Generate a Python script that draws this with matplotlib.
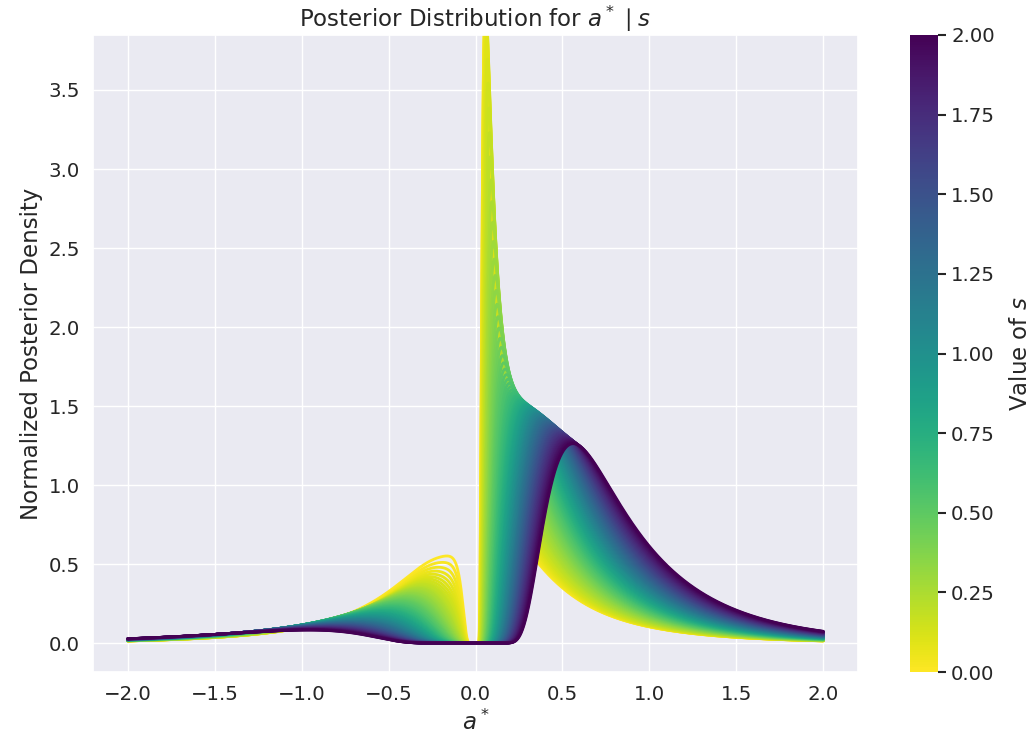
import matplotlib
matplotlib.use("Agg")
import matplotlib.pyplot as plt
import numpy as np
import seaborn as sns

# valores de s (um traço por valor)
s_min, s_max, n_curves = 0.0, 2.0, 100
s_vals = np.linspace(s_min, s_max, n_curves)

# parâmetros da priori (ajustados aos pontos)
prior_tau = np.exp(0.377)
prior_log_B = -1.565
prior_nu = np.exp(1.461)
prior_b = np.exp(0.628)
prior_c = 3.148
prior_wl = np.exp(1.914)
prior_wr = np.exp(2.477)

# parâmetros da verossimilhança s | a*
lik_mu = 2.093
lik_sx = np.exp(0.720)
lik_k = np.exp(-1.814)

# ticks
cbar_ticks = [0.0, 0.25, 0.5, 0.75, 1.0, 1.25, 1.5, 1.75, 2.0]


def posterior(a, s):
    th = 1.0 / a
    core = -(prior_nu + 1) / 2 * np.log1p(th ** 2 / (prior_nu * prior_b ** 2))
    w = np.where(th < prior_c, prior_wl, prior_wr)
    broad = prior_log_B - (th - prior_c) ** 2 / (2 * w ** 2)
    base = np.logaddexp(core, broad) - 2 * np.log(np.abs(a)) - a ** 2 / (2 * prior_tau ** 2)
    s = np.asarray(s)[:, None]
    t = th[None, :]
    lik = -((s ** 2 + lik_k * s) * t ** 2 - 2 * s * lik_mu * t) / (2 * lik_sx ** 2)
    logf = base[None, :] + lik
    logf -= logf.max(axis=1, keepdims=True)
    f = np.exp(logf)
    # normaliza cada curva no intervalo [-2, 2]
    return f / np.trapezoid(f, a, axis=1)[:, None]


u = np.linspace(-1, 1, 3000)
a_grid = np.sign(u) * 2 * np.abs(u) ** 2
curves = posterior(a_grid, s_vals)

sns.set_theme(style="darkgrid")
plt.rcParams["font.family"] = ["DejaVu Sans"]

fig = plt.figure(figsize=(10.35, 7.4), dpi=100)
ax = fig.add_axes([93 / 1035, 68 / 740, 765 / 1035, 637 / 740])
cax = fig.add_axes([910 / 1035, 68 / 740, 28 / 1035, 637 / 740])

cmap = plt.cm.viridis_r
norm = plt.Normalize(s_min, s_max)
for s, f in zip(s_vals, curves):
    ax.plot(a_grid, f, color=cmap(norm(s)), lw=2)

ax.set_xlim(-2.2, 2.2)
ax.set_ylim(-0.183, 3.848)
ax.set_yticks([0.0, 0.5, 1.0, 1.5, 2.0, 2.5, 3.0, 3.5])

ax.set_title(r"Posterior Distribution for $a^* \mid s$", fontsize=16.5)
ax.set_xlabel(r"$a^*$", fontsize=16.5)
ax.set_ylabel("Normalized Posterior Density", fontsize=16.5)
ax.tick_params(labelsize=14.2)

sm = plt.cm.ScalarMappable(cmap=cmap, norm=norm)
cbar = fig.colorbar(sm, cax=cax)
cbar.set_label(r"Value of $s$", fontsize=16.5, labelpad=10)
cbar.set_ticks(cbar_ticks)
cbar.ax.tick_params(labelsize=14.2, length=6, width=1.5)
cbar.outline.set_visible(False)

fig.savefig("out.png", dpi=100)
